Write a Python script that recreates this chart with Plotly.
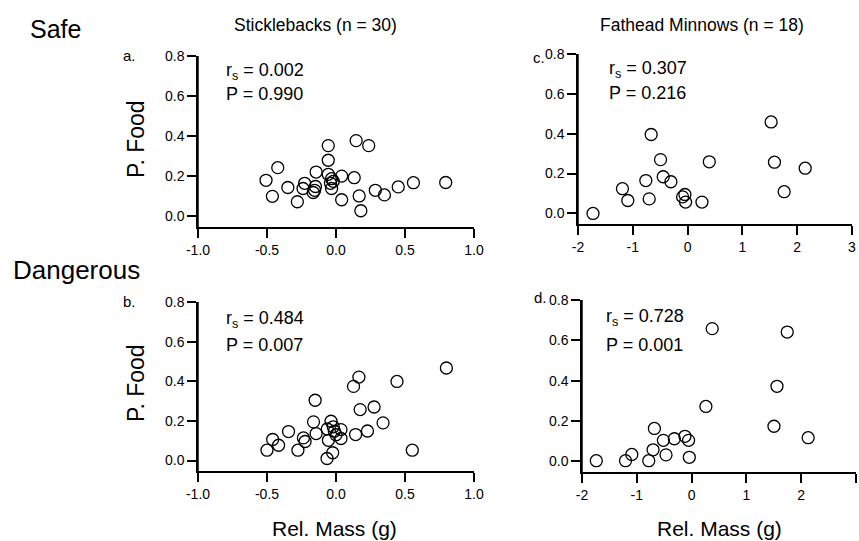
import plotly.graph_objects as go

W, H = 859, 541

# ---- data ----
stk_safe_x = [-0.507, -0.461, -0.422, -0.349, -0.280, -0.239, -0.227, -0.165, -0.155, -0.149,
              -0.144, -0.056, -0.056, -0.056, -0.032, -0.032, -0.020, -0.040, 0.041, 0.041,
              0.132, 0.146, 0.168, 0.180, 0.237, 0.285, 0.351, 0.451, 0.561, 0.795]
stk_safe_y = [0.180, 0.100, 0.243, 0.144, 0.073, 0.139, 0.165, 0.119, 0.130, 0.149,
              0.221, 0.353, 0.280, 0.210, 0.188, 0.139, 0.175, 0.165, 0.201, 0.083,
              0.193, 0.378, 0.102, 0.028, 0.353, 0.130, 0.107, 0.147, 0.168, 0.169]

fhm_safe_x = [-1.726, -1.189, -1.091, -0.762, -0.701, -0.665, -0.494, -0.445, -0.305,
              -0.091, -0.049, -0.037, 0.262, 0.396, 1.524, 1.585, 1.762, 2.146]
fhm_safe_y = [0.000, 0.124, 0.065, 0.165, 0.073, 0.396, 0.270, 0.184, 0.159,
              0.083, 0.095, 0.057, 0.057, 0.259, 0.459, 0.257, 0.109, 0.227]

stk_dang_x = [-0.500, -0.459, -0.416, -0.344, -0.276, -0.236, -0.224, -0.163, -0.151, -0.144,
              -0.063, -0.055, -0.065, -0.036, -0.024, -0.012, 0.036, 0.036, 0.127, 0.166,
              0.142, 0.175, 0.228, 0.276, 0.341, 0.442, 0.553, 0.800, -0.020, 0.000]
stk_dang_y = [0.052, 0.106, 0.077, 0.146, 0.052, 0.114, 0.096, 0.195, 0.304, 0.136,
              0.159, 0.102, 0.010, 0.198, 0.039, 0.148, 0.156, 0.111, 0.374, 0.421,
              0.131, 0.257, 0.149, 0.270, 0.190, 0.399, 0.052, 0.467, 0.170, 0.130]

fhm_dang_x = [-1.739, -1.206, -1.091, -0.782, -0.703, -0.679, -0.515, -0.467, -0.315,
              -0.121, -0.055, -0.042, 0.261, 0.376, 1.503, 1.558, 1.745, 2.127]
fhm_dang_y = [0.003, 0.003, 0.034, 0.003, 0.057, 0.163, 0.104, 0.032, 0.112,
              0.124, 0.104, 0.020, 0.272, 0.658, 0.174, 0.372, 0.641, 0.117]

stats = {"a": ("0.002", "0.990"), "b": ("0.484", "0.007"),
         "c": ("0.307", "0.216"), "d": ("0.728", "0.001")}

stk_ticks = [-1.0, -0.5, 0.0, 0.5, 1.0]
stk_ticktext = ["-1.0", "-0.5", "0.0", "0.5", "1.0"]
fhm_ticks = [-2, -1, 0, 1, 2, 3]
fhm_ticktext = ["-2", "-1", "0", "1", "2", "3"]
y_ticks = [0.0, 0.2, 0.4, 0.6, 0.8]
y_ticktext = ["0.0", "0.2", "0.4", "0.6", "0.8"]

def px(x):
    return x / W

def py(y):
    return 1 - y / H

fig = go.Figure()

marker = dict(symbol="circle-open", size=12, color="black", line=dict(width=1.3, color="black"))

panels = [
    ("x", "y", stk_safe_x, stk_safe_y),
    ("x2", "y2", fhm_safe_x, fhm_safe_y),
    ("x3", "y3", stk_dang_x, stk_dang_y),
    ("x4", "y4", fhm_dang_x, fhm_dang_y),
]
for xa, ya, xs, ys in panels:
    fig.add_trace(go.Scatter(x=xs, y=ys, mode="markers", marker=marker,
                             xaxis=xa, yaxis=ya, showlegend=False, cliponaxis=False))

tickfont = dict(family="Liberation Sans, Arial", size=14, color="black")
axis_common = dict(showline=True, linecolor="black", linewidth=1.5, ticks="outside",
                   ticklen=9, tickwidth=1.5, tickcolor="black", showgrid=False,
                   zeroline=False, tickfont=tickfont, fixedrange=True, automargin=False,
                   layer="above traces")

# domains (pixel based)
dom = {
    "a": ([198, 474], [227, 56]),
    "c": ([578, 852], [224, 54]),
    "b": ([198, 474], [471, 302]),
    "d": ([582, 856], [472, 300]),
}

def xdom(k):
    a, b = dom[k][0]
    return [px(a), px(b)]

def ydom(k):
    a, b = dom[k][1]
    return [py(a), py(b)]

stk_x = dict(range=[-1.0, 1.0], tickvals=stk_ticks, ticktext=stk_ticktext, **axis_common)
fhm_x = dict(range=[-2, 3], tickvals=fhm_ticks, ticktext=fhm_ticktext, **axis_common)
yax = dict(range=[-0.053, 0.8], tickvals=y_ticks, ticktext=y_ticktext, **axis_common)

fig.update_layout(
    template="none",
    width=W, height=H, margin=dict(l=0, r=0, t=0, b=0, pad=0), autosize=False,
    paper_bgcolor="white", plot_bgcolor="white",
    xaxis=dict(domain=xdom("a"), anchor="y", **stk_x),
    yaxis=dict(domain=ydom("a"), anchor="x", **yax),
    xaxis2=dict(domain=xdom("c"), anchor="y2", **fhm_x),
    yaxis2=dict(domain=ydom("c"), anchor="x2", **yax),
    xaxis3=dict(domain=xdom("b"), anchor="y3", **stk_x),
    yaxis3=dict(domain=ydom("b"), anchor="x3", **yax),
    xaxis4=dict(domain=xdom("d"), anchor="y4", **fhm_x),
    yaxis4=dict(domain=ydom("d"), anchor="x4", **yax),
)

# y-axis lines reinforced as shapes along each panel's left edge
for k in ["a", "b", "c", "d"]:
    xd, yd = xdom(k), ydom(k)
    fig.add_shape(type="line", xref="paper", yref="paper",
                  x0=xd[0], x1=xd[0], y0=yd[0], y1=yd[1],
                  line=dict(color="black", width=1.5), layer="above")

ann = []
def text(t, x, y, size, xanchor="center", yanchor="middle", family="Liberation Sans, Arial", angle=0):
    ann.append(dict(text=t, x=px(x), y=py(y), xref="paper", yref="paper", showarrow=False,
                    xanchor=xanchor, yanchor=yanchor, textangle=angle,
                    font=dict(family=family, size=size, color="black")))

text("Safe", 28, 29, 25, xanchor="left")
text("Dangerous", 11, 270, 26, xanchor="left")
text("Sticklebacks (n = 30)", 315, 25, 17.5)
text("Fathead Minnows (n = 18)", 702, 25, 17.5)
text("Rel. Mass (g)", 334, 528, 21)
text("Rel. Mass (g)", 719, 528, 21)
text("P. Food", 136, 139, 23, angle=-90)
text("P. Food", 136, 383, 23, angle=-90)
text("a.", 138, 56, 15, xanchor="right")
text("c.", 547, 57, 15, xanchor="right")
text("b.", 138, 301, 15, xanchor="right")
text("d.", 549, 297, 15, xanchor="right")

stat_pos = {"a": (224, 70, 94), "c": (607, 68, 93), "b": (224, 318, 345), "d": (604, 316, 345)}
for k, (x0, yr, yp) in stat_pos.items():
    r, p = stats[k]
    text("r<sub>s</sub> = " + r, x0, yr + 1, 18, xanchor="left")
    text("P = " + p, x0, yp, 18, xanchor="left")

fig.update_layout(annotations=ann)

post = "document.body.style.margin='0';document.body.style.overflow='hidden';"
fig.write_html("out.html", config={"displayModeBar": False}, post_script=post)
